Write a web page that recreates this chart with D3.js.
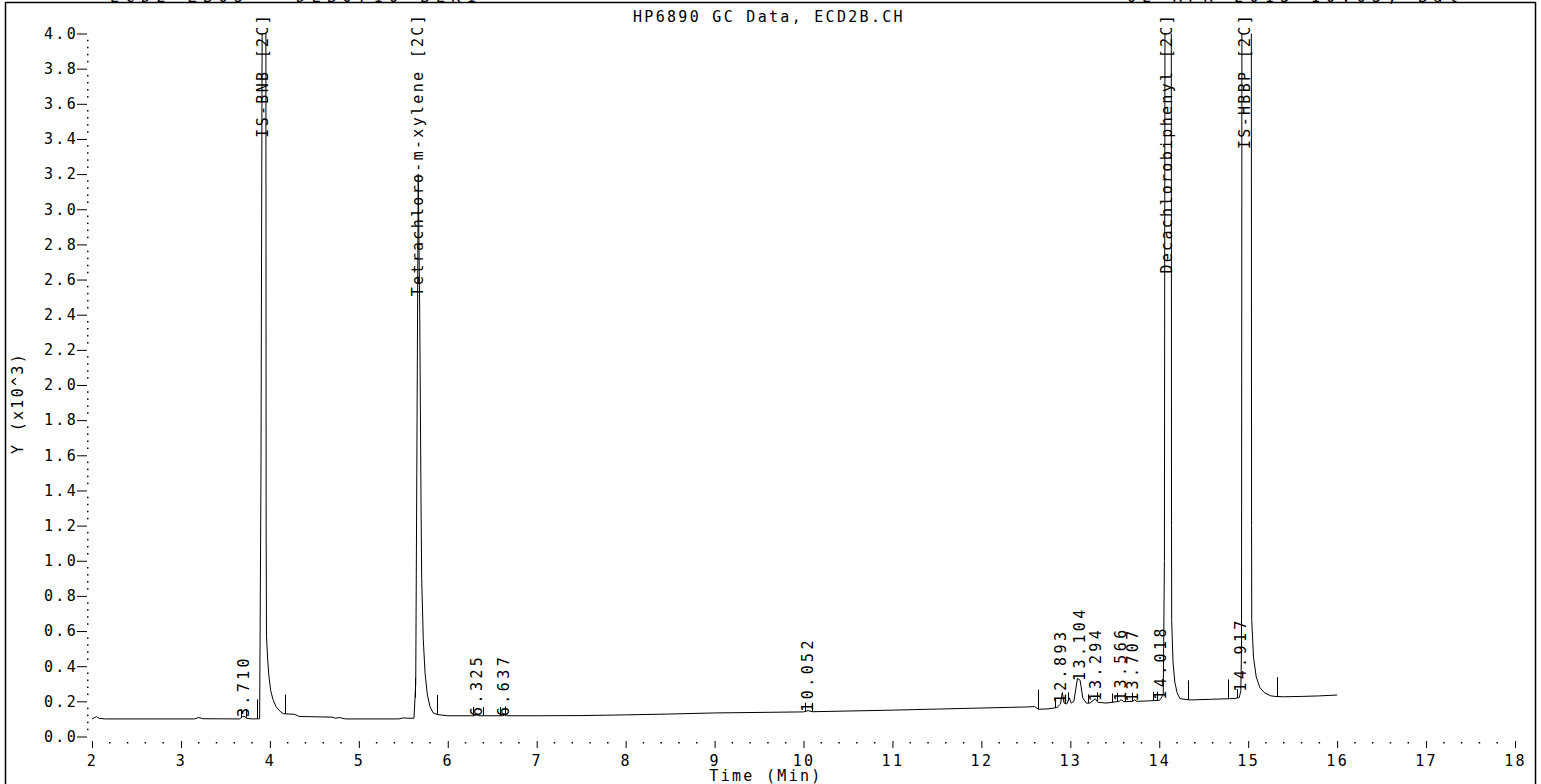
<!DOCTYPE html>
<html>
<head>
<meta charset="utf-8">
<script src="https://cdn.jsdelivr.net/npm/d3@7"></script>
<style>
  body { margin: 0; background: #fff; }
  svg text { font-family: "DejaVu Sans Mono", monospace; font-size: 15px; fill: #000; letter-spacing: 2.3px; }
</style>
</head>
<body>
<div id="chart"></div>
<script>
// detector trace, [time (min), signal (x10^3)]
const signal = [
  [2.00,0.100],[2.03,0.108],[2.05,0.113],[2.08,0.103],[2.15,0.100],
  [3.15,0.100],[3.20,0.108],[3.25,0.101],
  [3.66,0.100],[3.69,0.112],[3.71,0.116],[3.74,0.103],[3.80,0.100],[3.885,0.101],
  [3.90,1.5],[3.915,4.4],[3.955,4.4],[3.958,1.2],[3.962,0.57],[3.975,0.44],[3.99,0.34],[4.01,0.26],[4.035,0.21],[4.07,0.17],[4.11,0.145],[4.15,0.130],[4.28,0.126],[4.33,0.114],
  [4.70,0.110],[4.74,0.104],[4.78,0.108],[4.85,0.100],
  [5.45,0.100],[5.50,0.106],[5.55,0.104],[5.62,0.104],
  [5.64,0.3],[5.652,1.5],[5.668,3.2],[5.685,2.4],[5.70,1.3],[5.707,0.9],[5.725,0.55],[5.745,0.36],[5.77,0.24],[5.80,0.17],[5.835,0.135],[5.88,0.125],[6.00,0.118],
  [6.30,0.118],[6.325,0.123],[6.35,0.118],[6.62,0.118],[6.637,0.122],[6.66,0.118],
  [7.00,0.118],[7.50,0.119],[8.00,0.123],[8.50,0.128],[9.00,0.134],[9.50,0.137],[10.00,0.140],[10.052,0.147],[10.10,0.141],
  [10.50,0.145],[11.00,0.150],[11.50,0.156],[12.00,0.162],[12.50,0.168],[12.60,0.170],
  [12.64,0.155],[12.75,0.157],[12.85,0.165],[12.89,0.185],[12.91,0.25],[12.93,0.19],[12.96,0.185],[12.99,0.22],[13.01,0.19],
  [13.04,0.20],[13.08,0.33],[13.11,0.32],[13.14,0.22],[13.18,0.19],[13.22,0.19],[13.28,0.215],[13.31,0.195],[13.40,0.19],
  [13.55,0.200],[13.57,0.210],[13.60,0.198],[13.70,0.200],[13.72,0.208],[13.75,0.200],[13.90,0.203],[14.00,0.206],[14.018,0.215],[14.045,0.24],
  [14.058,1.0],[14.065,4.4],[14.135,4.4],[14.138,1.2],[14.14,0.66],[14.155,0.42],[14.175,0.31],[14.20,0.25],[14.233,0.215],[14.35,0.208],
  [14.60,0.212],[14.85,0.216],[14.90,0.222],[14.917,0.26],[14.925,0.5],
  [14.93,4.4],[15.035,4.4],[15.038,1.2],[15.04,0.66],[15.06,0.45],[15.09,0.34],[15.13,0.28],[15.18,0.25],[15.25,0.232],[15.30,0.228],
  [15.40,0.226],[15.60,0.228],[15.80,0.231],[16.00,0.236]
];

// named peaks
const peakNames = ["IS-BNB [2C]", "Tetrachloro-m-xylene [2C]", "Decachlorobiphenyl [2C]", "IS-HBBP [2C]"];
const peakTimes = [3.92, 5.665, 14.09, 14.96];

// retention-time labels
const rtLabels = ["3.710", "6.325", "6.637", "10.052", "12.893", "13.104", "13.294", "13.566", "13.707", "14.018", "14.917"];

// integration markers
const tallMarks = [3.855, 4.170, 5.632, 5.876, 12.636, 14.323, 14.770, 15.328];
const shortMarks = [3.672, 3.732, 6.284, 6.396, 6.587, 6.643, 10.017, 10.096, 12.828, 12.940, 12.974,
  13.199, 13.300, 13.468, 13.525, 13.615, 13.693, 13.930, 13.975, 14.874];

const xTicks = [2, 3, 4, 5, 6, 7, 8, 9, 10, 11, 12, 13, 14, 15, 16, 17, 18];
const yTicks = [0, 0.2, 0.4, 0.6, 0.8, 1.0, 1.2, 1.4, 1.6, 1.8, 2.0, 2.2, 2.4, 2.6, 2.8, 3.0, 3.2, 3.4, 3.6, 3.8, 4.0];

const titleText = "HP6890 GC Data, ECD2B.CH";
const headLeft = "ECD2 ZB05 - DLB0710 BLK1";
const headRight = "02 APR 2013 10:03, Bal";

const W = 1541, H = 784;

const svg = d3.select("#chart")
  .append("svg")
  .attr("width", W)
  .attr("height", H);

const x = d3.scaleLinear().domain([2, 18]).range([92, 1515]);
const y = d3.scaleLinear().domain([0, 4]).range([736.5, 33.5]);

// frame
svg.append("rect")
  .attr("x", 5.5).attr("y", 2.5)
  .attr("width", 1530).attr("height", 820)
  .attr("fill", "none")
  .attr("stroke", "#000")
  .attr("stroke-width", 1.5);

// header lines (cut off at the top edge, as in the print)
svg.append("text").attr("x", 110).attr("y", 2)
  .attr("textLength", 368).text(headLeft);
svg.append("text").attr("x", 1127).attr("y", 2)
  .attr("textLength", 333).text(headRight);

svg.append("text")
  .attr("x", 633).attr("y", 22)
  .text(titleText);

// y axis
const yAxis = svg.append("g")
  .attr("transform", "translate(87,0)")
  .call(d3.axisLeft(y).tickValues(yTicks).tickFormat(d3.format(".1f")).tickSize(10).tickPadding(1));
yAxis.select(".domain").remove();
yAxis.attr("font-family", null).attr("font-size", null);
yAxis.selectAll("text").attr("dx", 2);
yAxis.selectAll("line").attr("stroke", "#000");

const yMinor = d3.range(0, 4.001, 0.04).filter(v => Math.abs(v * 5 - Math.round(v * 5)) > 1e-6);
svg.append("g").selectAll("rect")
  .data(yMinor)
  .join("rect")
  .attr("x", 87).attr("y", d => y(d) - 0.75)
  .attr("width", 1.5).attr("height", 1.5)
  .attr("fill", "#000");

svg.append("text")
  .attr("transform", "translate(18,403) rotate(-90)")
  .attr("text-anchor", "middle")
  .attr("dominant-baseline", "central")
  .text("Y (x10^3)");

// x axis
const xAxis = svg.append("g")
  .attr("transform", "translate(0,741)")
  .call(d3.axisBottom(x).tickValues(xTicks).tickFormat(d3.format("d")).tickSize(7).tickPadding(7));
xAxis.select(".domain").remove();
xAxis.attr("font-family", null).attr("font-size", null);
xAxis.selectAll("line").attr("stroke", "#000");

const xMinor = d3.range(2, 18.001, 0.2).filter(v => Math.abs(v - Math.round(v)) > 1e-6);
svg.append("g").selectAll("rect")
  .data(xMinor)
  .join("rect")
  .attr("x", d => x(d) - 0.75).attr("y", 742)
  .attr("width", 1.5).attr("height", 1.5)
  .attr("fill", "#000");

svg.append("text")
  .attr("x", 766).attr("y", 781)
  .attr("text-anchor", "middle")
  .text("Time (Min)");

// trace
svg.append("clipPath").attr("id", "plot-clip")
  .append("rect")
  .attr("x", x(2)).attr("y", y(4))
  .attr("width", x(18) - x(2)).attr("height", y(0) - y(4) + 10);

const line = d3.line()
  .x(d => x(d[0]))
  .y(d => y(d[1]));

svg.append("path")
  .datum(signal)
  .attr("clip-path", "url(#plot-clip)")
  .attr("fill", "none")
  .attr("stroke", "#000")
  .attr("stroke-width", 1)
  .attr("d", line);

// value of the trace at a given time
const bis = d3.bisector(d => d[0]).left;
function traceAt(t) {
  const i = Math.max(1, Math.min(signal.length - 1, bis(signal, t)));
  const a = signal[i - 1], b = signal[i];
  return a[1] + (b[1] - a[1]) * (t - a[0]) / (b[0] - a[0]);
}

// integration markers
svg.append("g").selectAll("line")
  .data(tallMarks.map(t => [t, 0.11]).concat(shortMarks.map(t => [t, 0.05])))
  .join("line")
  .attr("x1", d => Math.round(x(d[0])) + 0.5)
  .attr("x2", d => Math.round(x(d[0])) + 0.5)
  .attr("y1", d => y(traceAt(d[0])))
  .attr("y2", d => y(traceAt(d[0]) + d[1]))
  .attr("stroke", "#000")
  .attr("stroke-width", 1);

// compound labels
svg.append("g").selectAll("text")
  .data(peakNames)
  .join("text")
  .attr("transform", (d, i) => `translate(${x(peakTimes[i])},13) rotate(-90)`)
  .attr("text-anchor", "end")
  .attr("dominant-baseline", "central")
  .text(d => d);

// retention time labels
svg.append("g").selectAll("text")
  .data(rtLabels)
  .join("text")
  .attr("transform", d => `translate(${x(+d)},${y(traceAt(+d)) + 1}) rotate(-90)`)
  .attr("dominant-baseline", "central")
  .style("letter-spacing", "3.4px")
  .text(d => d);
</script>
</body>
</html>
